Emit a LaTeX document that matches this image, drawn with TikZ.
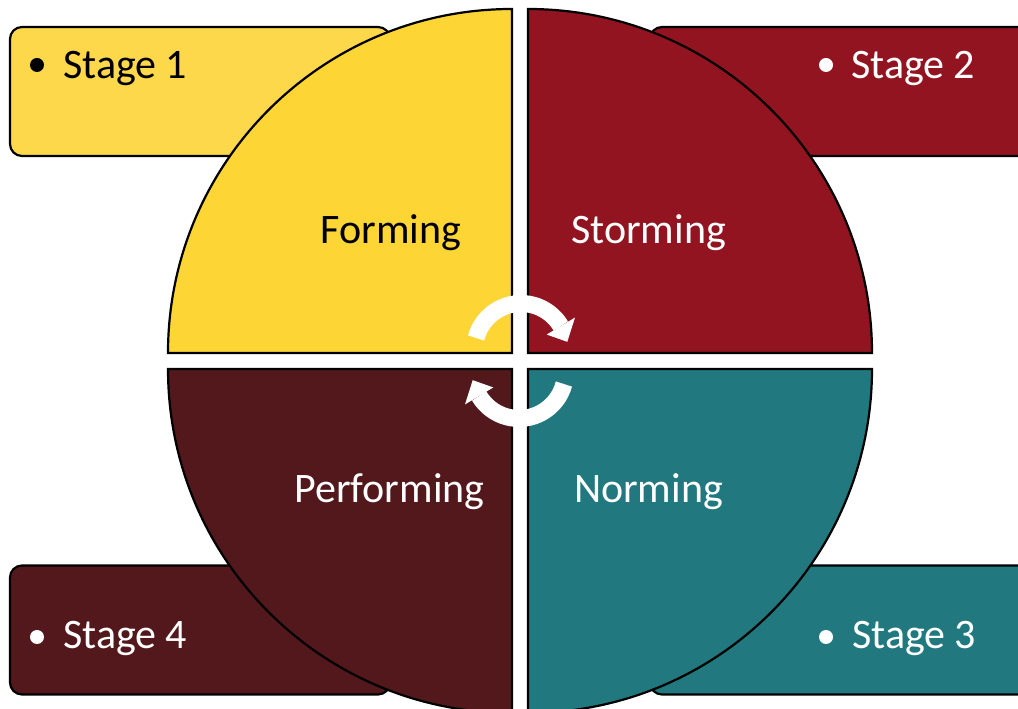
\documentclass[tikz,border=0pt]{standalone}
\usepackage{fontspec}
\setmainfont{Carlito}
\usepackage{tikz}
\definecolor{formyellow}{HTML}{FDD535}
\definecolor{formbox}{HTML}{FCD84A}
\definecolor{stormred}{HTML}{921420}
\definecolor{perfbrown}{HTML}{52181C}
\definecolor{normteal}{HTML}{21797F}
\tikzset{quarter/.style = {draw = black, line width = 2.2pt}}
\tikzset{stagebox/.style = {shape = rectangle, draw = black, line width = 2.2pt, rounded corners = 12pt, minimum width = 380pt, minimum height = 129pt}}
\tikzset{stagetext/.style = {inner sep = 0pt, font = \fontsize{42}{50}\selectfont}}
\tikzset{dot/.style = {shape = circle, inner sep = 0pt, minimum size = 14pt}}
\tikzset{turn/.style = {white, line width = 17pt}}

\begin{document}
\begin{tikzpicture}[x = 1pt, y = 1pt]
			\useasboundingbox (0, 0) rectangle (1018, 709);
			\clip (0, 0) rectangle (1018, 709);

			\node[stagebox, fill = formbox] (box1) at (200, 617.5) {};
			\node[stagebox, fill = stormred] (box2) at (840, 617.5) {};
			\node[stagebox, fill = normteal] (box3) at (840, 79) {};
			\node[stagebox, fill = perfbrown] (box4) at (200, 79) {};

			\filldraw[quarter, fill = formyellow] (512, 356) -- ++(-344, 0) arc[start angle = 180, end angle = 90, radius = 344] -- cycle;
			\filldraw[quarter, fill = stormred] (528, 356) -- ++(0, 344) arc[start angle = 90, end angle = 0, radius = 344] -- cycle;
			\filldraw[quarter, fill = normteal] (528, 340) -- ++(344, 0) arc[start angle = 0, end angle = -90, radius = 344] -- cycle;
			\filldraw[quarter, fill = perfbrown] (512, 340) -- ++(0, -344) arc[start angle = 270, end angle = 180, radius = 344] -- cycle;

			\node[stagetext, anchor = base] (forming) at (391, 465) {Forming};
			\node[stagetext, anchor = base, white] (storming) at (648.5, 465) {Storming};
			\node[stagetext, anchor = base, white] (norming) at (648.5, 206) {Norming};
			\node[stagetext, anchor = base, white] (performing) at (389.5, 206) {Performing};

			\node[dot, fill = black] (dot1) at (37, 644) {};
			\node[stagetext, anchor = base west] (stage1) at (63, 630) {Stage 1};
			\node[dot, fill = white] (dot2) at (826, 644) {};
			\node[stagetext, anchor = base west, white] (stage2) at (851, 630) {Stage 2};
			\node[dot, fill = white] (dot3) at (826, 72) {};
			\node[stagetext, anchor = base west, white] (stage3) at (852, 60) {Stage 3};
			\node[dot, fill = white] (dot4) at (37, 72) {};
			\node[stagetext, anchor = base west, white] (stage4) at (63, 60) {Stage 4};

			\begin{scope}[shift = {(521, 359)}]
				\draw[turn] (165:46.5) arc[start angle = 165, end angle = 31, radius = 46.5];
				\fill[white] (31:30) -- (31:63) -- (10:47) -- cycle;
			\end{scope}
			\begin{scope}[shift = {(519, 337)}]
				\draw[turn] (345:46.5) arc[start angle = 345, end angle = 211, radius = 46.5];
				\fill[white] (211:30) -- (211:63) -- (190:47) -- cycle;
			\end{scope}
		\end{tikzpicture}
\end{document}
